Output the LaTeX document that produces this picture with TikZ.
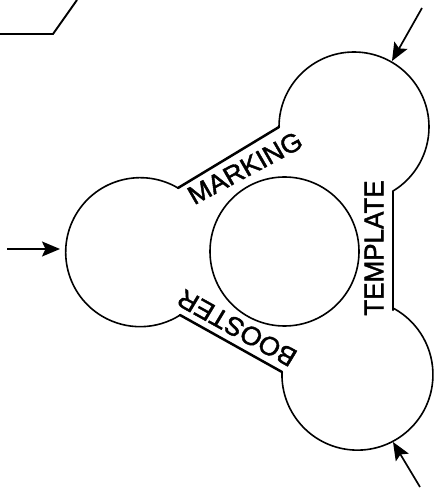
\documentclass[tikz,border=0pt]{standalone}
\usepackage{fontspec}
\setmainfont[FakeBold=1.6]{Liberation Sans}
\usetikzlibrary{arrows.meta}
\tikzset{
  rim/.style={line width=1.6pt,line cap=round},
  band/.style={line width=2.5pt,line cap=round},
  feed/.style={line width=1.7pt,-{Stealth[length=18pt,width=15pt,inset=3.5pt]}},
  tag/.style={font=\fontsize{26}{26}\selectfont,inner sep=0pt,anchor=center,xscale=1.04}
}
\begin{document}
\begin{tikzpicture}[x=1pt,y=1pt]
\useasboundingbox (0,0) rectangle (437,491);
\fill[white] (0,0) rectangle (437,491);
% lobe ends
\coordinate (trA) at (279,364);
\coordinate (trB) at (393,299);
\coordinate (lA) at (178,303);
\coordinate (lB) at (180,176);
\coordinate (brA) at (282,119);
\coordinate (brB) at (393,181);
% lobes
\draw[rim] (trA) arc[start angle=180,end angle=-59,radius=75];
\draw[rim] (lA) arc[start angle=59.5,end angle=302.6,radius=74.5];
\draw[rim] (brA) arc[start angle=178,end angle=421,radius=75.5];
\node[draw,circle,line width=1.6pt,minimum size=149pt,inner sep=0pt] (core) at (284.5,239.5) {};
% straight bands
\draw[band] (trA) -- (lA);
\draw[band] (trB) -- (brB);
\draw[band] (lB) -- (brA);
% labels
\node[tag,rotate=29] (marking) at (245,323) {MARKING};
\node[tag,rotate=90] (template) at (374,243) {TEMPLATE};
\node[tag,rotate=150] (booster) at (237,163) {BOOSTER};
% arrows
\coordinate (a1s) at (422,483);
\coordinate (a1e) at (392,430);
\coordinate (a2s) at (7,242);
\coordinate (a2e) at (60,242);
\coordinate (a3s) at (420,4);
\coordinate (a3e) at (393,49);
\draw[feed] (a1s) -- (a1e);
\draw[feed] (a2s) -- (a2e);
\draw[feed] (a3s) -- (a3e);
% corner fragment
\coordinate (f1) at (0,457);
\coordinate (f2) at (53,457);
\coordinate (f3) at (77,491);
\draw[line width=1.9pt] (f1) -- (f2) -- (f3);
\end{tikzpicture}
\end{document}
